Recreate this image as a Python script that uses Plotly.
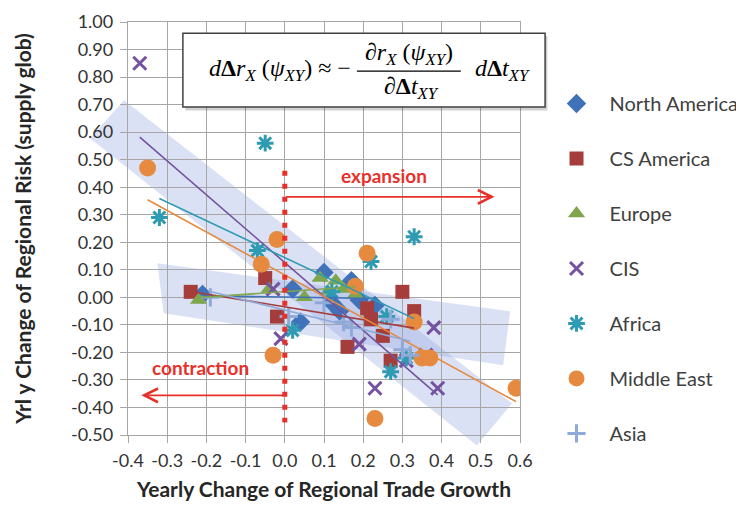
import numpy as np
import plotly.graph_objects as go

# ---------------- data ----------------
series_names = ["North America", "CS America", "Europe", "CIS", "Africa", "Middle East", "Asia"]

na_x = [-0.21, 0.02, 0.04, 0.10, 0.12, 0.14, 0.17, 0.19, 0.23]
na_y = [0.01, 0.03, -0.09, 0.09, -0.02, -0.05, 0.06, -0.01, -0.03]

cs_x = [-0.24, -0.05, -0.02, 0.16, 0.21, 0.22, 0.25, 0.27, 0.30, 0.33]
cs_y = [0.02, 0.07, -0.07, -0.18, -0.04, -0.08, -0.14, -0.23, 0.02, -0.05]

eu_x = [-0.22, -0.04, 0.05, 0.09, 0.11, 0.13, 0.15, 0.18]
eu_y = [-0.01, 0.03, 0.00, 0.07, 0.02, 0.06, 0.03, 0.01]

cis_x = [-0.37, -0.03, -0.01, 0.19, 0.23, 0.31, 0.36, 0.38, 0.39]
cis_y = [0.85, 0.03, -0.15, -0.17, -0.33, -0.23, -0.21, -0.11, -0.33]

af_x = [-0.32, -0.07, -0.05, 0.02, 0.12, 0.22, 0.26, 0.27, 0.31, 0.33]
af_y = [0.29, 0.17, 0.56, -0.12, 0.02, 0.13, -0.07, -0.27, -0.22, 0.22]

me_x = [-0.35, -0.06, -0.03, -0.02, 0.18, 0.21, 0.23, 0.33, 0.35, 0.37, 0.59]
me_y = [0.47, 0.12, -0.21, 0.21, 0.04, 0.16, -0.44, -0.09, -0.22, -0.22, -0.33]

asia_x = [-0.19, 0.01, 0.10, 0.15, 0.17, 0.27, 0.30, 0.32]
asia_y = [0.00, -0.07, -0.02, -0.09, -0.11, -0.08, -0.19, -0.21]

x_tick_vals = [-0.4, -0.3, -0.2, -0.1, 0.0, 0.1, 0.2, 0.3, 0.4, 0.5, 0.6]
x_tick_text = ["-0.4", "-0.3", "-0.2", "-0.1", "0.0", "0.1", "0.2", "0.3", "0.4", "0.5", "0.6"]
y_tick_vals = [-0.5, -0.4, -0.3, -0.2, -0.1, 0.0, 0.1, 0.2, 0.3, 0.4, 0.5, 0.6, 0.7, 0.8, 0.9, 1.0]
y_tick_text = ["-0.50", "-0.40", "-0.30", "-0.20", "-0.10", "0.00", "0.10", "0.20", "0.30",
               "0.40", "0.50", "0.60", "0.70", "0.80", "0.90", "1.00"]

# ---------------- styles ----------------
XR = [-0.4, 0.6]
YR = [-0.5, 1.0]
GRID = "#a6a6a6"
RED = "#e8302a"
BAND = "rgba(135,157,222,0.30)"

styles = {
    "North America": dict(symbol="diamond", size=15, color="#3f72b8", lw=0),
    "CS America": dict(symbol="square", size=14, color="#a63d3d", lw=0),
    "Europe": dict(symbol="triangle-up", size=15, color="#7ea64c", lw=0),
    "CIS": dict(symbol="x-thin-open", size=13, color="#7452a0", lw=3),
    "Africa": dict(symbol="asterisk-open", size=14, color="#2e9bb3", lw=3),
    "Middle East": dict(symbol="circle", size=17, color="#e58a3e", lw=0),
    "Asia": dict(symbol="cross-thin-open", size=13, color="#8eaad8", lw=3),
}
data = {
    "North America": (na_x, na_y),
    "CS America": (cs_x, cs_y),
    "Europe": (eu_x, eu_y),
    "CIS": (cis_x, cis_y),
    "Africa": (af_x, af_y),
    "Middle East": (me_x, me_y),
    "Asia": (asia_x, asia_y),
}

fig = go.Figure()

for name in series_names:
    xs, ys = data[name]
    st = styles[name]
    fig.add_trace(go.Scatter(
        x=xs, y=ys, mode="markers", name=name, legendgroup=name,
        marker=dict(symbol=st["symbol"], size=st["size"], color=st["color"],
                    line=dict(color=st["color"], width=st["lw"])),
    ))

# linear trend lines, fitted from each series
for name in series_names:
    xs, ys = data[name]
    st = styles[name]
    k, b = np.polyfit(xs, ys, 1)
    xl = np.array([min(xs), max(xs)])
    fig.add_trace(go.Scatter(
        x=xl, y=k * xl + b, mode="lines", showlegend=False, legendgroup=name,
        line=dict(color=st["color"], width=1.6), hoverinfo="skip",
    ))


def to_paper(x, y):
    return (x - XR[0]) / (XR[1] - XR[0]), (y - YR[0]) / (YR[1] - YR[0])


def band_path(corners):
    pts = [to_paper(x, y) for x, y in corners]
    return "M " + " L ".join(f"{px:.4f},{py:.4f}" for px, py in pts) + " Z"


band1 = [(-0.410, 0.716), (0.580, -0.385), (0.490, -0.538), (-0.497, 0.578)]
band2 = [(-0.325, 0.124), (0.575, -0.051), (0.557, -0.247), (-0.309, -0.058)]

shapes = [
    dict(type="path", xref="paper", yref="paper", path=band_path(band1),
         fillcolor=BAND, line=dict(width=0), layer="below"),
    dict(type="path", xref="paper", yref="paper", path=band_path(band2),
         fillcolor=BAND, line=dict(width=0), layer="below"),
    # red dotted separator at zero growth
    dict(type="line", xref="x", yref="y", x0=0, x1=0, y0=0.46, y1=-0.455,
         line=dict(color=RED, width=5, dash="5px,8px")),
    # equation box (shadow + box)
    dict(type="rect", xref="paper", yref="paper", x0=0.146, x1=1.070, y0=0.786, y1=0.966,
         fillcolor="rgba(0,0,0,0.18)", line=dict(width=0)),
    dict(type="rect", xref="paper", yref="paper", x0=0.140, x1=1.064, y0=0.794, y1=0.973,
         fillcolor="white", line=dict(color="#404040", width=1.5)),
    # fraction bar
    dict(type="line", xref="paper", yref="paper", x0=0.584, x1=0.849, y0=0.881, y1=0.881,
         line=dict(color="black", width=1.2)),
]

EQ = dict(family="Liberation Serif", size=24, color="black")
annotations = [
    dict(xref="paper", yref="paper", x=0.573, y=0.884, xanchor="right", yanchor="middle",
         showarrow=False, font=EQ,
         text="<i>d</i><b>Δ</b><i>r</i><sub><i>X</i></sub> (<i>ψ</i><sub><i>XY</i></sub>) ≈ −"),
    dict(xref="paper", yref="paper", x=0.716, y=0.922, xanchor="center", yanchor="middle",
         showarrow=False, font=EQ,
         text="∂<i>r</i><sub><i>X</i></sub> (<i>ψ</i><sub><i>XY</i></sub>)"),
    dict(xref="paper", yref="paper", x=0.724, y=0.840, xanchor="center", yanchor="middle",
         showarrow=False, font=EQ,
         text="∂<b>Δ</b><i>t</i><sub><i>XY</i></sub>"),
    dict(xref="paper", yref="paper", x=0.880, y=0.884, xanchor="left", yanchor="middle",
         showarrow=False, font=EQ,
         text="<i>d</i><b>Δ</b><i>t</i><sub><i>XY</i></sub>"),
    # arrows
    dict(x=0.535, y=0.365, ax=0.0, ay=0.365, xref="x", yref="y", axref="x", ayref="y",
         text="", showarrow=True, arrowhead=5, arrowsize=1.5, arrowwidth=1.8, arrowcolor=RED),
    dict(x=-0.366, y=-0.356, ax=0.0, ay=-0.356, xref="x", yref="y", axref="x", ayref="y",
         text="", showarrow=True, arrowhead=5, arrowsize=1.5, arrowwidth=1.8, arrowcolor=RED),
    dict(x=0.253, y=0.444, xref="x", yref="y", showarrow=False, text="<b>expansion</b>",
         font=dict(family="Lato", size=19, color=RED)),
    dict(x=-0.216, y=-0.255, xref="x", yref="y", showarrow=False, text="<b>contraction</b>",
         font=dict(family="Lato", size=19, color=RED)),
]

axis_common = dict(
    showgrid=True, gridcolor=GRID, gridwidth=1.3, zeroline=False,
    showline=True, linecolor=GRID, linewidth=1.3, mirror=True,
    ticks="outside", ticklen=7, tickcolor=GRID, tickwidth=1.3,
    tickfont=dict(family="Lato", size=18, color="#333333"),
)

fig.update_layout(
    width=744, height=505,
    margin=dict(l=120, r=232, t=14, b=78, autoexpand=False),
    paper_bgcolor="white", plot_bgcolor="white",
    shapes=shapes, annotations=annotations,
    xaxis=dict(range=XR, tickvals=x_tick_vals, ticktext=x_tick_text, ticklabelstandoff=2,
               title=dict(text="<b>Yearly Change of Regional Trade Growth</b>",
                          font=dict(family="Lato", size=21, color="#262626"), standoff=12),
               **axis_common),
    yaxis=dict(range=YR, tickvals=y_tick_vals, ticktext=y_tick_text, ticklabelstandoff=3,
               title=dict(text="<b>Yrl y Change of Regional Risk (supply glob)</b>",
                          font=dict(family="Lato", size=21, color="#262626"), standoff=33),
               **axis_common),
    legend=dict(x=1.060, xanchor="left", y=0.85, yanchor="top",
                font=dict(family="Lato", size=20, color="#404040"),
                itemwidth=56, tracegroupgap=26, bgcolor="rgba(0,0,0,0)"),
    showlegend=True,
)

fig.write_html("out.html")
